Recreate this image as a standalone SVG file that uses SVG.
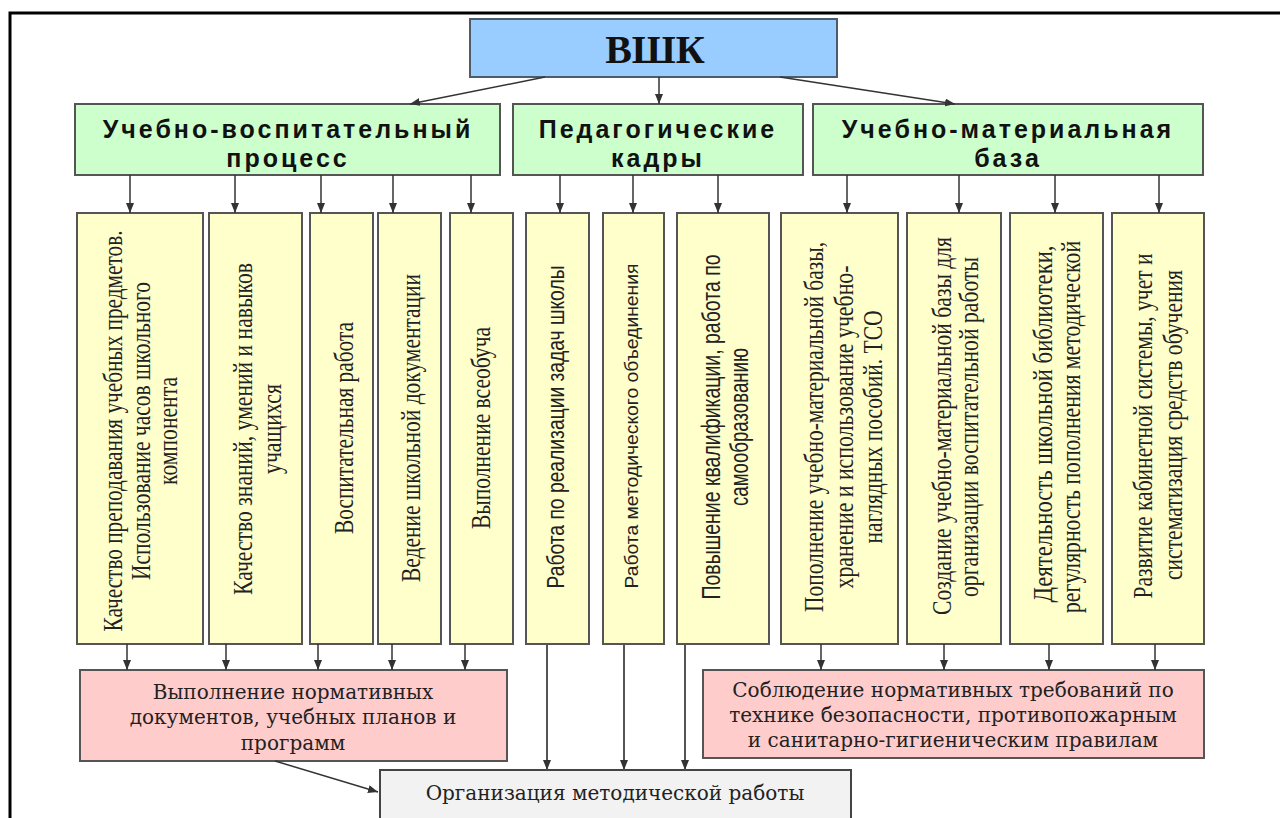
<svg xmlns="http://www.w3.org/2000/svg" width="1280" height="818" viewBox="0 0 1280 818">
<defs>
<marker id="ah" markerUnits="userSpaceOnUse" markerWidth="10" markerHeight="8" refX="10" refY="4" orient="auto">
<path d="M0,0 L10,4 L0,8 z" fill="#333"/>
</marker>
<style>
.bg{fill:#fff}
.top{fill:#99ccff;stroke:#4d5b6b;stroke-width:2}
.grn{fill:#ccffcc;stroke:#555;stroke-width:2}
.yel{fill:#ffffcc;stroke:#555;stroke-width:2}
.pnk{fill:#ffcccc;stroke:#555;stroke-width:2}
.gry{fill:#f2f2f2;stroke:#444;stroke-width:2}
.hd{font-family:"Liberation Sans",Arial,sans-serif;font-weight:bold;font-size:25px;letter-spacing:3px;fill:#111;text-anchor:middle}
.vs{font-family:"Liberation Serif","Times New Roman",serif;font-size:28px;fill:#222;text-anchor:middle}
.vn{font-family:"Liberation Sans",Arial,sans-serif;fill:#222;text-anchor:middle}
.bt{font-family:"DejaVu Serif",serif;font-size:20px;fill:#222;text-anchor:middle}
.cn{stroke:#333;stroke-width:1.5;fill:none}
.cg{stroke:#555;stroke-width:2;fill:none}
</style>
</defs>
<rect class="bg" x="0" y="0" width="1280" height="818"/>
<path d="M10,818 L10,13 L1280,13" fill="none" stroke="#000" stroke-width="3"/>

<g id="vshk">
<rect class="top" x="470" y="19" width="367" height="58"/>
<text x="655" y="63" font-family="'Liberation Serif','Times New Roman',serif" font-weight="bold" font-size="40" fill="#111" text-anchor="middle">ВШК</text>
</g>

<g id="uvp">
<rect class="grn" x="75" y="104" width="425" height="71"/>
<text class="hd" x="288" y="138">Учебно-воспитательный</text>
<text class="hd" x="288" y="167">процесс</text>
</g>
<g id="pk">
<rect class="grn" x="513" y="104" width="290" height="71"/>
<text class="hd" x="658" y="138">Педагогические</text>
<text class="hd" x="658" y="167">кадры</text>
</g>
<g id="umb">
<rect class="grn" x="813" y="104" width="390" height="71"/>
<text class="hd" x="1008" y="138">Учебно-материальная</text>
<text class="hd" x="1008" y="167">база</text>
</g>

<g id="y1">
<rect class="yel" x="77" y="213" width="126" height="431"/>
<text class="vs" transform="translate(122,431) rotate(-90)" textLength="401" lengthAdjust="spacingAndGlyphs">Качество преподавания учебных предметов.</text>
<text class="vs" transform="translate(150,431) rotate(-90)" textLength="298" lengthAdjust="spacingAndGlyphs">Использование часов школьного</text>
<text class="vs" transform="translate(177,431) rotate(-90)" textLength="108" lengthAdjust="spacingAndGlyphs">компонента</text>
</g>
<g id="y2">
<rect class="yel" x="209" y="213" width="93" height="431"/>
<text class="vs" transform="translate(252,429) rotate(-90)" textLength="332" lengthAdjust="spacingAndGlyphs">Качество знаний, умений и навыков</text>
<text class="vs" transform="translate(281,429) rotate(-90)" textLength="90" lengthAdjust="spacingAndGlyphs">учащихся</text>
</g>
<g id="y3">
<rect class="yel" x="310" y="213" width="63" height="431"/>
<text class="vs" transform="translate(353,428) rotate(-90)" textLength="212" lengthAdjust="spacingAndGlyphs">Воспитательная работа</text>
</g>
<g id="y4">
<rect class="yel" x="378" y="213" width="63" height="431"/>
<text class="vs" transform="translate(420,428) rotate(-90)" textLength="308" lengthAdjust="spacingAndGlyphs">Ведение школьной документации</text>
</g>
<g id="y5">
<rect class="yel" x="450" y="213" width="63" height="431"/>
<text class="vs" transform="translate(490,428) rotate(-90)" textLength="202" lengthAdjust="spacingAndGlyphs">Выполнение всеобуча</text>
</g>
<g id="y6">
<rect class="yel" x="526" y="213" width="63" height="431"/>
<text class="vn" font-size="23" transform="translate(564,427) rotate(-90)" textLength="323" lengthAdjust="spacingAndGlyphs">Работа по реализации задач школы</text>
</g>
<g id="y7">
<rect class="yel" x="603" y="213" width="61" height="431"/>
<text class="vn" font-size="18" transform="translate(638,426) rotate(-90)" textLength="325" lengthAdjust="spacingAndGlyphs">Работа методического объединения</text>
</g>
<g id="y8">
<rect class="yel" x="677" y="213" width="92" height="431"/>
<text class="vn" font-size="25" transform="translate(720,427) rotate(-90)" textLength="345" lengthAdjust="spacingAndGlyphs">Повышение квалификации, работа по</text>
<text class="vn" font-size="25" transform="translate(748,427) rotate(-90)" textLength="158" lengthAdjust="spacingAndGlyphs">самообразованию</text>
</g>
<g id="y9">
<rect class="yel" x="781" y="213" width="117" height="431"/>
<text class="vs" transform="translate(823,427) rotate(-90)" textLength="370" lengthAdjust="spacingAndGlyphs">Пополнение учебно-материальной базы,</text>
<text class="vs" transform="translate(853,427) rotate(-90)" textLength="323" lengthAdjust="spacingAndGlyphs">хранение и использование учебно-</text>
<text class="vs" transform="translate(882,427) rotate(-90)" textLength="233" lengthAdjust="spacingAndGlyphs">наглядных пособий. ТСО</text>
</g>
<g id="y10">
<rect class="yel" x="907" y="213" width="94" height="431"/>
<text class="vs" transform="translate(951,426) rotate(-90)" textLength="378" lengthAdjust="spacingAndGlyphs">Создание учебно-материальной базы для</text>
<text class="vs" transform="translate(978,427) rotate(-90)" textLength="340" lengthAdjust="spacingAndGlyphs">организации воспитательной работы</text>
</g>
<g id="y11">
<rect class="yel" x="1010" y="213" width="93" height="431"/>
<text class="vs" transform="translate(1052,424) rotate(-90)" textLength="357" lengthAdjust="spacingAndGlyphs">Деятельность школьной библиотеки,</text>
<text class="vs" transform="translate(1080,427) rotate(-90)" textLength="372" lengthAdjust="spacingAndGlyphs">регулярность пополнения методической</text>
</g>
<g id="y12">
<rect class="yel" x="1112" y="213" width="92" height="431"/>
<text class="vs" transform="translate(1152,426) rotate(-90)" textLength="345" lengthAdjust="spacingAndGlyphs">Развитие кабинетной системы, учет и</text>
<text class="vs" transform="translate(1182,425) rotate(-90)" textLength="310" lengthAdjust="spacingAndGlyphs">систематизация средств обучения</text>
</g>

<g id="norm">
<rect class="pnk" x="80" y="670" width="427" height="91"/>
<text class="bt" x="293" y="699">Выполнение нормативных</text>
<text class="bt" x="293" y="724">документов, учебных планов и</text>
<text class="bt" x="293" y="750">программ</text>
</g>
<g id="sobl">
<rect class="pnk" x="703" y="670" width="501" height="88"/>
<text class="bt" x="953" y="697" font-size="21">Соблюдение нормативных требований по</text>
<text class="bt" x="953" y="722" font-size="21">технике безопасности, противопожарным</text>
<text class="bt" x="953" y="747" font-size="21">и санитарно-гигиеническим правилам</text>
</g>
<g id="org">
<rect class="gry" x="380" y="770" width="471" height="60"/>
<text class="bt" x="615" y="800" font-size="20.5">Организация методической работы</text>
</g>

<g id="connectors">
<line class="cn" x1="545" y1="77" x2="410" y2="104" marker-end="url(#ah)"/>
<line class="cn" x1="659" y1="77" x2="659" y2="104" marker-end="url(#ah)"/>
<line class="cn" x1="780" y1="77" x2="955" y2="104" marker-end="url(#ah)"/>

<line class="cn" x1="130" y1="175" x2="130" y2="213" marker-end="url(#ah)"/>
<line class="cn" x1="235" y1="175" x2="235" y2="213" marker-end="url(#ah)"/>
<line class="cn" x1="321" y1="175" x2="321" y2="213" marker-end="url(#ah)"/>
<line class="cn" x1="393" y1="175" x2="393" y2="213" marker-end="url(#ah)"/>
<line class="cn" x1="471" y1="175" x2="471" y2="213" marker-end="url(#ah)"/>
<line class="cn" x1="560" y1="175" x2="560" y2="213" marker-end="url(#ah)"/>
<line class="cn" x1="633" y1="175" x2="633" y2="213" marker-end="url(#ah)"/>
<line class="cn" x1="718" y1="175" x2="718" y2="213" marker-end="url(#ah)"/>
<line class="cn" x1="847" y1="175" x2="847" y2="213" marker-end="url(#ah)"/>
<line class="cn" x1="959" y1="175" x2="959" y2="213" marker-end="url(#ah)"/>
<line class="cn" x1="1055" y1="175" x2="1055" y2="213" marker-end="url(#ah)"/>
<line class="cn" x1="1159" y1="175" x2="1159" y2="213" marker-end="url(#ah)"/>

<line class="cn" x1="127" y1="644" x2="127" y2="670" marker-end="url(#ah)"/>
<line class="cn" x1="226" y1="644" x2="226" y2="670" marker-end="url(#ah)"/>
<line class="cn" x1="318" y1="644" x2="318" y2="670" marker-end="url(#ah)"/>
<line class="cn" x1="392" y1="644" x2="392" y2="670" marker-end="url(#ah)"/>
<line class="cn" x1="465" y1="644" x2="465" y2="670" marker-end="url(#ah)"/>

<line class="cn" x1="821" y1="644" x2="821" y2="670" marker-end="url(#ah)"/>
<line class="cn" x1="944" y1="644" x2="944" y2="670" marker-end="url(#ah)"/>
<line class="cn" x1="1049" y1="644" x2="1049" y2="670" marker-end="url(#ah)"/>
<line class="cn" x1="1155" y1="644" x2="1155" y2="670" marker-end="url(#ah)"/>

<line class="cg" x1="547" y1="644" x2="547" y2="770" marker-end="url(#ah)"/>
<line class="cg" x1="624" y1="644" x2="624" y2="770" marker-end="url(#ah)"/>
<line class="cg" x1="685" y1="644" x2="685" y2="770" marker-end="url(#ah)"/>

<line class="cn" x1="275" y1="761" x2="378" y2="792" marker-end="url(#ah)"/>
</g>
</svg>
